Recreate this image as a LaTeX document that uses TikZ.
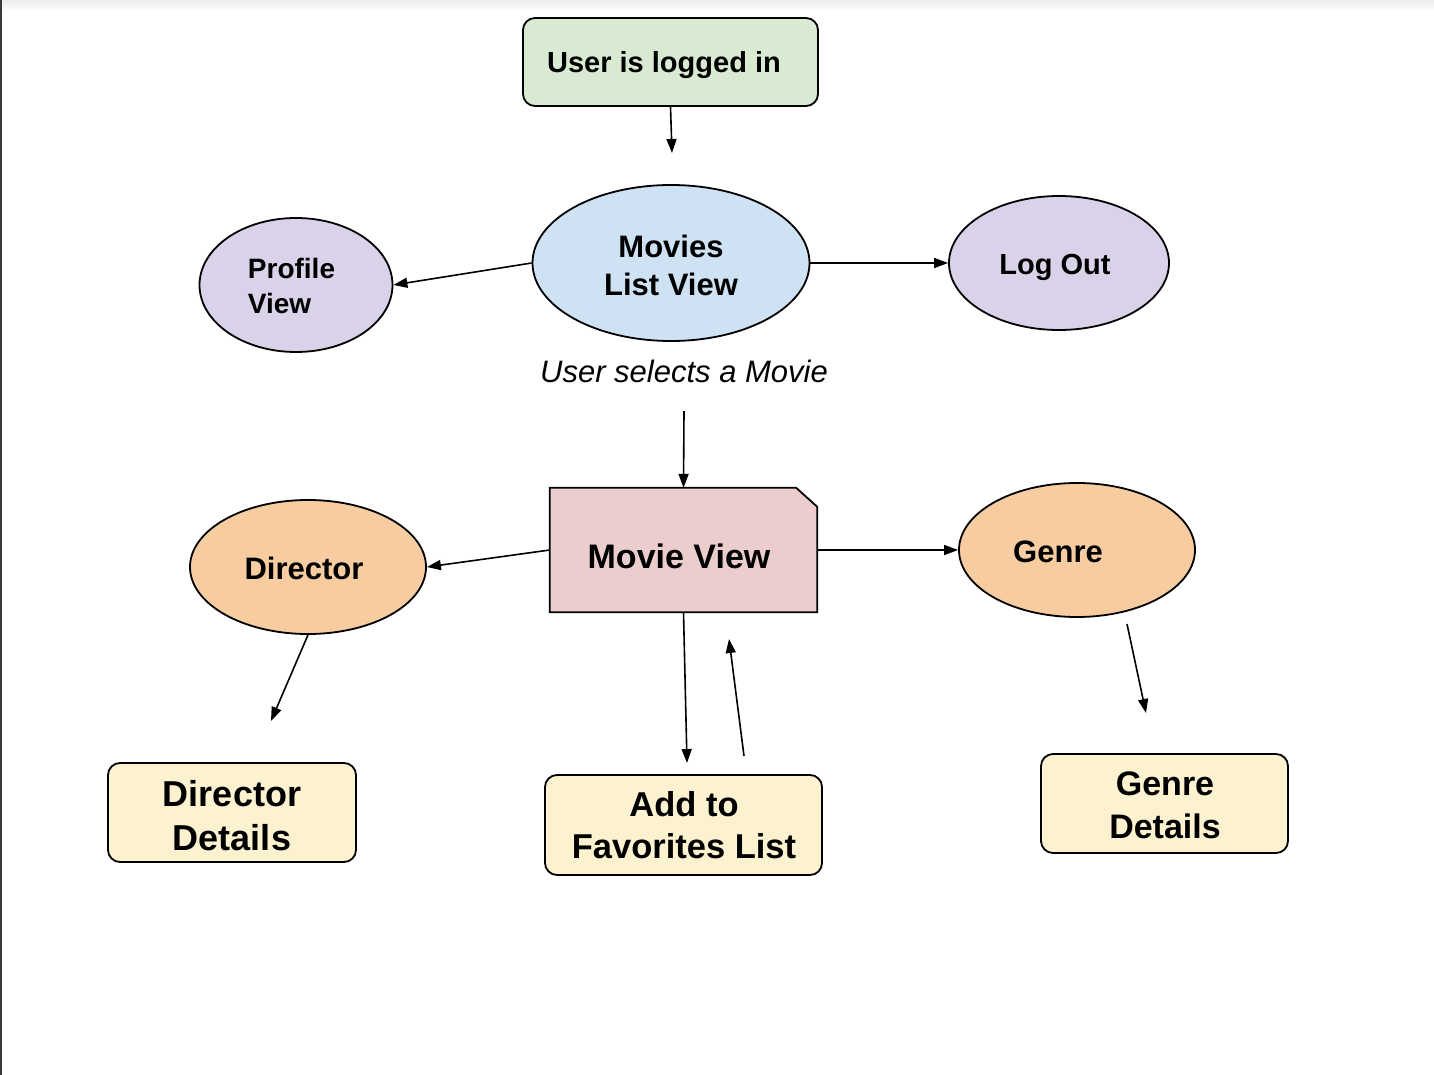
\documentclass[tikz,border=0pt]{standalone}
\usepackage{fontspec}
\setmainfont{Liberation Sans}
\usetikzlibrary{arrows.meta,shapes.geometric}
\definecolor{cgreen}{HTML}{D9EAD3}
\definecolor{cblue}{HTML}{CFE2F3}
\definecolor{cpurple}{HTML}{D9D2E9}
\definecolor{corange}{HTML}{F6CCA0}
\definecolor{cyellow}{HTML}{FCF2D0}
\definecolor{cpink}{HTML}{ECCDCD}
\tikzset{
  shp/.style={draw=black, line width=1.8pt},
  rbox/.style={shp, rounded corners=12pt, inner sep=0pt},
  ell/.style={shp, ellipse, inner sep=0pt},
  txt/.style={inner sep=0pt, anchor=base, align=center},
  conn/.style={line width=1.6pt, -{Triangle[length=14pt,width=10pt]}},
}
\begin{document}
\begin{tikzpicture}[x=1pt,y=-1pt]
\useasboundingbox (0,0) rectangle (1434,1075);
\fill[white] (0,0) rectangle (1434,1075);
\shade[top color=black!7, bottom color=white] (0,0) rectangle (1434,12);
\draw[line width=2pt, color=black!78] (1,0) -- (1,1075);

% top box
\node[rbox, fill=cgreen, minimum width=295pt, minimum height=88pt] (login) at (670.5,62) {};
\node[txt, font=\bfseries\fontsize{29}{35}\selectfont] (loginT) at (664,73) {User is logged in};

% movies list view
\node[ell, fill=cblue, minimum width=277pt, minimum height=156pt] (mlv) at (671,263) {};
\node[txt, font=\bfseries\fontsize{31}{38}\selectfont] (mlvT) at (671,295) {Movies\\List View};

% profile view
\node[ell, fill=cpurple, minimum width=193pt, minimum height=134pt] (prof) at (296,285) {};
\node[txt, align=left, font=\bfseries\fontsize{28}{35}\selectfont] (profT) at (291.5,313) {Profile\\View};

% log out
\node[ell, fill=cpurple, minimum width=220pt, minimum height=134pt] (logout) at (1059,263) {};
\node[txt, font=\bfseries\fontsize{29}{35}\selectfont] (logoutT) at (1055,274) {Log Out};

% label
\node[txt, font=\itshape\fontsize{31}{37}\selectfont] (sel) at (684,382) {User selects a Movie};

% movie view
\node[inner sep=0pt, minimum width=267pt, minimum height=124pt] (mv) at (683.5,550) {};
\draw[shp, fill=cpink] (mv.south west) -- (mv.north west) -- ([xshift=-21pt]mv.north east) -- ([yshift=-19pt]mv.north east) -- (mv.south east) -- cycle;
\node[txt, font=\bfseries\fontsize{34}{40}\selectfont] (mvT) at (679,568) {Movie View};

% director
\node[ell, fill=corange, minimum width=236pt, minimum height=134pt] (dir) at (308,567) {};
\node[txt, font=\bfseries\fontsize{31}{37}\selectfont] (dirT) at (304,579) {Director};

% genre
\node[ell, fill=corange, minimum width=236pt, minimum height=134pt] (gen) at (1077,550) {};
\node[txt, font=\bfseries\fontsize{31}{37}\selectfont] (genT) at (1058,562) {Genre};

% bottom boxes
\node[rbox, fill=cyellow, minimum width=248pt, minimum height=99pt] (dd) at (232,812.5) {};
\node[txt, font=\bfseries\fontsize{36}{44}\selectfont] (ddT) at (232,850) {Director\\Details};

\node[rbox, fill=cyellow, minimum width=277pt, minimum height=100pt] (fav) at (683.5,825) {};
\node[txt, font=\bfseries\fontsize{34.5}{42}\selectfont] (favT) at (684,858) {Add to\\Favorites List};

\node[rbox, fill=cyellow, minimum width=247pt, minimum height=99pt] (gd) at (1164.5,803.5) {};
\node[txt, font=\bfseries\fontsize{34}{43}\selectfont] (gdT) at (1165,838) {Genre\\Details};

% free ends
\coordinate (e1) at (672,153);
\coordinate (s4) at (684,411);
\coordinate (e7) at (687,763);
\coordinate (s8) at (744,756);
\coordinate (e8) at (729,639);
\coordinate (e9) at (271,721);
\coordinate (s10) at (1127,624);
\coordinate (e10) at (1146,713);

% connectors
\draw[conn] (login.south) -- (e1);
\draw[conn] (mlv.west) -- (prof.east);
\draw[conn] (mlv.east) -- (logout.west);
\draw[conn] (s4) -- (mv.north);
\draw[conn] (mv.west) -- (dir.east);
\draw[conn] (mv.east) -- (gen.west);
\draw[conn] (mv.south) -- (e7);
\draw[conn] (s8) -- (e8);
\draw[conn] (dir.south) -- (e9);
\draw[conn] (s10) -- (e10);
\end{tikzpicture}
\end{document}
